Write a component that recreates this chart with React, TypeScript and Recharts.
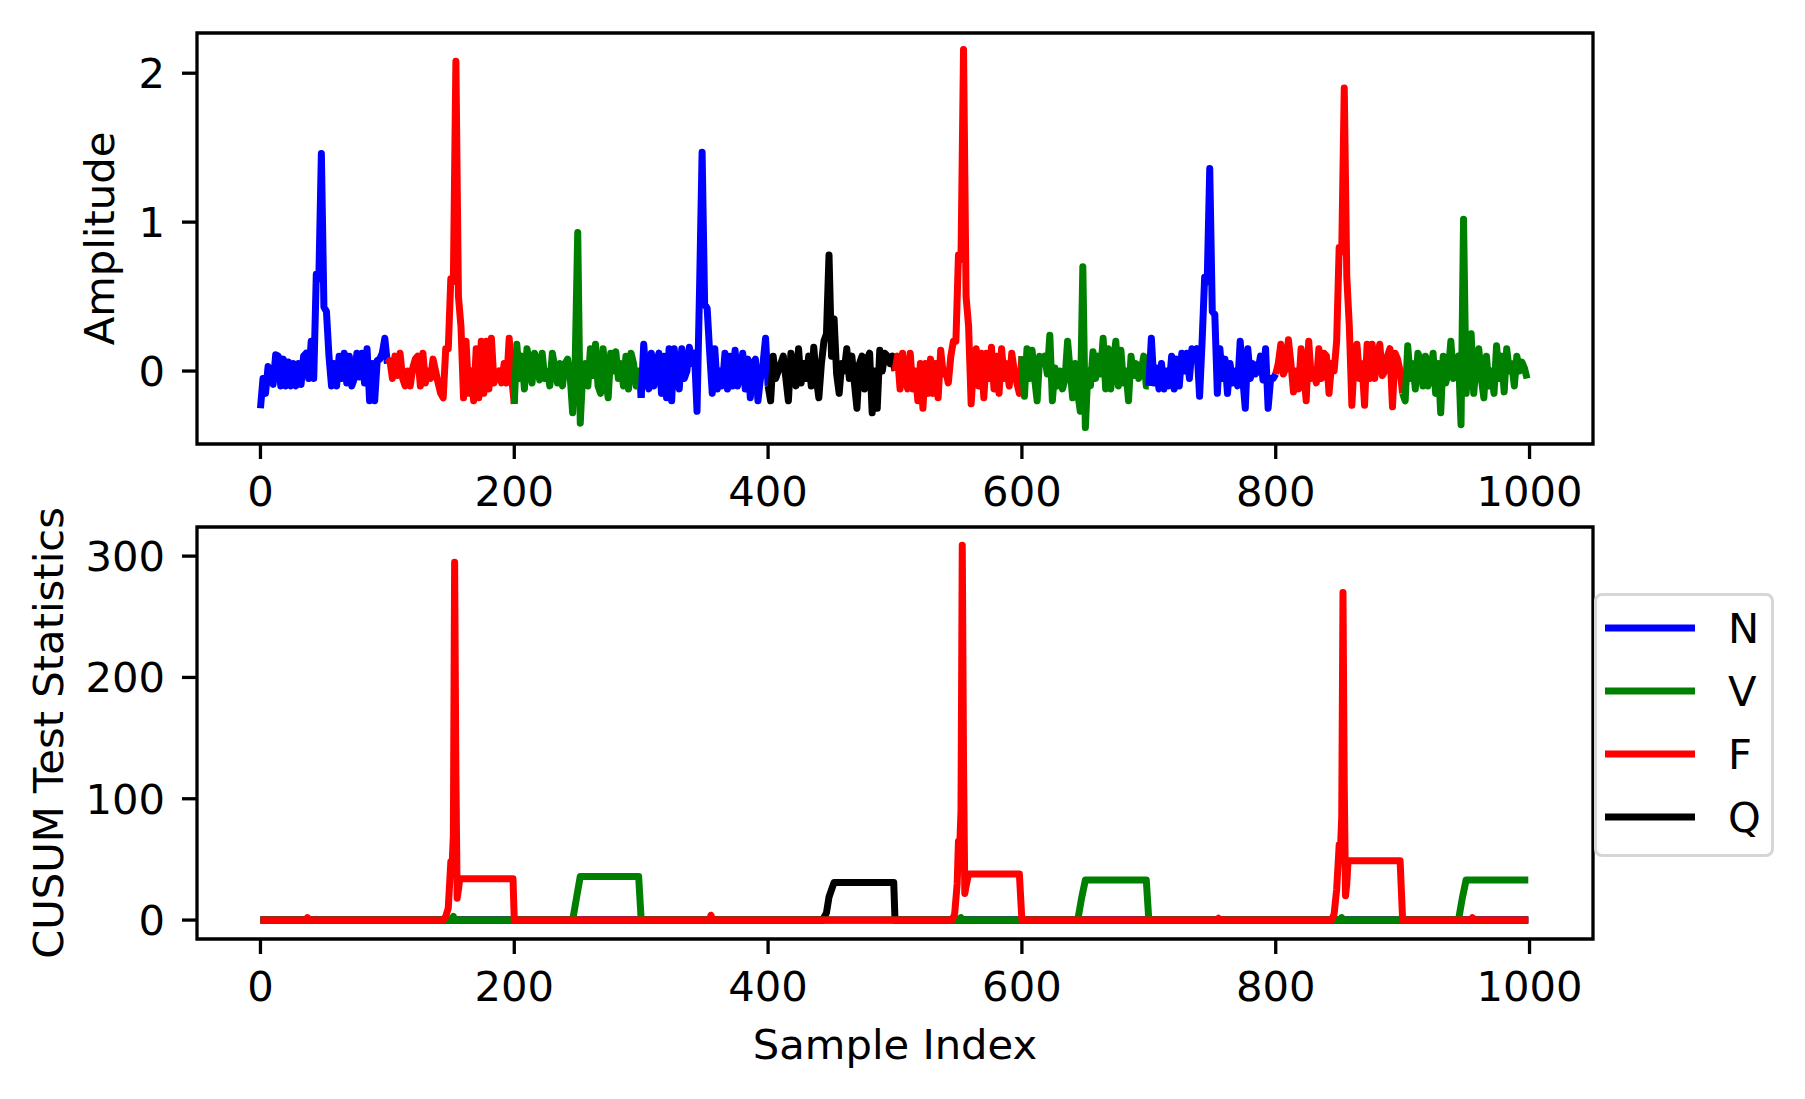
import React from 'react';
import { LineChart, Line, XAxis, YAxis, ReferenceArea } from 'recharts';

const FONT = '"DejaVu Sans", sans-serif';
const FS = 41.7;

// class colours (matplotlib b / g / r / k)
const classColors: Record<string, string> = { N: '#0000ff', V: '#008000', F: '#ff0000', Q: '#000000' };
const legendOrder = ['N', 'V', 'F', 'Q'];

const xTicks = [0, 200, 400, 600, 800, 1000];
const ampTicks = [0, 1, 2];
const cusumTicks = [0, 100, 200, 300];

// top panel: ten 100-sample beats, values every 2 samples
const segStarts = [0, 100, 200, 300, 400, 500, 600, 700, 800, 900];
const segClasses = ['N', 'F', 'V', 'N', 'Q', 'F', 'V', 'N', 'F', 'V'];
const SAMPLE_STEP = 2;

const seg0 = [-0.25, -0.05, -0.15, 0.03, -0.02, -0.09, 0.11, 0.1, -0.1, 0.08,
  -0.1, 0.06, -0.1, 0.05, -0.1, 0.05, -0.09, 0.1, 0.12, -0.05,
  0.2, -0.05, 0.65, 0.62, 1.46, 0.43, 0.4, 0.1, -0.1, 0.05,
  -0.1, 0.1, -0.05, 0.12, -0.08, 0.1, -0.1, -0.05, 0.12, -0.04,
  0.12, -0.08, 0.15, -0.2, 0.05, -0.2, 0.07, 0.08, 0.12, 0.22];
const seg1 = [0.05, 0.07, -0.05, 0.1, -0.03, 0.12, -0.05, -0.1, 0.0, -0.1,
  0.02, 0.08, 0.1, -0.1, 0.12, -0.08, 0.0, -0.05, 0.08, 0.0,
  -0.08, -0.15, -0.18, 0.15, 0.15, 0.62, 0.6, 2.08, 0.5, 0.3,
  -0.18, 0.2, -0.15, 0.0, -0.2, 0.15, -0.18, 0.2, -0.15, 0.2,
  -0.12, 0.22, -0.08, -0.02, 0.0, -0.08, 0.05, -0.08, 0.22, -0.05];
const seg2 = [-0.22, 0.18, -0.05, 0.1, -0.12, 0.15, 0.05, -0.08, 0.12, 0.05,
  -0.06, 0.12, -0.05, 0.0, -0.1, 0.12, 0.02, -0.08, 0.05, -0.1,
  0.05, 0.08, -0.03, -0.28, 0.06, 0.93, -0.35, 0.0, 0.05, -0.1,
  0.15, -0.03, 0.18, -0.1, -0.15, 0.15, -0.05, -0.18, 0.12, 0.0,
  0.13, -0.05, 0.05, -0.1, 0.1, -0.12, 0.12, 0.05, -0.1, 0.0];
const seg3 = [-0.18, 0.18, -0.05, -0.12, 0.12, -0.1, 0.05, 0.12, -0.15, 0.1,
  -0.18, 0.15, -0.2, 0.15, 0.0, -0.12, 0.15, -0.05, 0.0, 0.16,
  0.05, 0.12, -0.27, 0.55, 1.47, 0.45, 0.42, 0.12, -0.15, 0.15,
  -0.12, 0.0, -0.1, 0.12, -0.12, 0.1, -0.1, 0.14, -0.1, 0.0,
  0.12, -0.12, 0.08, -0.18, 0.05, 0.08, -0.2, -0.05, 0.05, 0.22];
const seg4 = [-0.1, -0.2, 0.1, -0.05, 0.0, 0.05, 0.1, -0.05, -0.2, 0.12,
  0.0, -0.1, 0.15, -0.08, 0.05, -0.05, 0.1, -0.1, 0.16, -0.05,
  -0.18, 0.05, 0.2, 0.25, 0.78, 0.1, 0.35, -0.02, -0.15, 0.05,
  0.0, 0.15, -0.05, 0.1, -0.08, -0.25, 0.05, 0.1, -0.12, 0.08,
  0.12, -0.28, 0.0, -0.25, 0.14, 0.0, 0.12, 0.1, 0.05, 0.1];
const seg5 = [0.0, 0.1, -0.12, 0.12, -0.05, -0.12, 0.12, -0.12, 0.0, -0.2,
  0.05, -0.25, 0.05, -0.15, 0.08, -0.15, 0.05, -0.18, 0.14, -0.02,
  0.0, -0.08, 0.1, 0.2, 0.2, 0.78, 0.75, 2.16, 0.5, 0.3,
  -0.22, 0.05, 0.15, -0.1, 0.12, -0.18, 0.12, -0.05, 0.16, -0.12,
  0.1, -0.15, 0.15, -0.05, 0.05, -0.1, 0.12, 0.0, -0.08, -0.15];
const seg6 = [0.1, -0.17, 0.15, -0.05, 0.14, -0.05, -0.2, 0.1, 0.05, 0.1,
  -0.02, 0.24, -0.2, 0.02, -0.1, 0.0, -0.12, -0.05, 0.2, 0.0,
  -0.18, 0.05, -0.15, -0.27, 0.7, -0.38, 0.0, -0.1, 0.13, -0.05,
  0.1, -0.02, 0.22, -0.12, 0.15, -0.12, 0.05, 0.2, -0.1, 0.14,
  -0.08, 0.0, -0.2, 0.1, -0.03, 0.05, -0.05, 0.0, 0.1, -0.1];
const seg7 = [-0.1, 0.22, -0.08, 0.02, -0.12, 0.05, -0.12, 0.0, -0.1, 0.1,
  -0.12, 0.08, -0.1, 0.12, 0.0, 0.12, -0.05, 0.15, 0.1, 0.15,
  -0.17, 0.2, 0.63, 0.6, 1.36, 0.4, 0.38, -0.15, 0.15, -0.05,
  0.08, -0.15, 0.05, -0.08, 0.0, -0.1, 0.2, -0.05, -0.25, 0.15,
  -0.05, 0.05, -0.02, 0.0, 0.1, -0.06, 0.15, -0.25, -0.05, -0.05];
const seg8 = [-0.02, 0.05, 0.18, -0.02, 0.02, 0.21, 0.05, -0.14, 0.0, -0.12,
  0.15, 0.0, -0.2, 0.2, -0.05, 0.0, -0.08, 0.15, -0.05, 0.12,
  0.1, -0.15, 0.05, 0.0, 0.2, 0.83, 0.8, 1.9, 0.63, 0.3,
  -0.23, 0.1, 0.18, -0.05, 0.05, -0.23, 0.18, -0.05, 0.18, -0.05,
  0.1, 0.18, -0.03, 0.0, 0.1, 0.15, -0.24, 0.12, 0.08, 0.0];
const seg9 = [-0.15, -0.2, 0.17, -0.05, 0.05, -0.12, 0.12, 0.08, -0.1, 0.1,
  -0.1, 0.0, 0.12, -0.15, 0.05, -0.28, 0.1, -0.08, 0.0, 0.2,
  -0.05, 0.0, 0.1, -0.36, 1.02, -0.15, 0.05, 0.25, -0.15, 0.05,
  0.15, -0.05, -0.18, 0.1, -0.1, 0.0, -0.15, 0.17, -0.05, 0.1,
  -0.14, 0.15, 0.0, 0.05, -0.1, 0.1, 0.0, 0.06, 0.02, -0.05];
const segValues = [seg0, seg1, seg2, seg3, seg4, seg5, seg6, seg7, seg8, seg9];

// bottom panel: CUSUM statistic per class, [sample, value] breakpoints
const cusumN: [number, number][] = [[0, 0], [999, 0]];
const cusumQ: [number, number][] = [[0, 0], [443, 0], [446, 6], [448, 19], [452, 31], [499, 31], [500, 0], [999, 0]];
const cusumV: [number, number][] = [
  [0, 0], [150, 0], [152, 3], [153, 0], [246, 0], [248, 12], [249, 18], [252, 36], [298, 36], [300, 0],
  [550, 0], [552, 2], [553, 0], [644, 0], [646, 12], [647, 18], [650, 33], [698, 33], [700, 0],
  [850, 0], [852, 2], [853, 0], [944, 0], [946, 12], [947, 18], [950, 33], [999, 33],
];
const cusumF: [number, number][] = [
  [0, 0], [36, 0], [37, 2], [38, 0], [144, 0], [146, 3], [148, 10], [150, 48], [151, 45], [152, 70],
  [153, 295], [154, 120], [155, 18], [156, 25], [157, 34], [199, 34], [200, 0], [354, 0], [355, 4], [356, 0],
  [545, 0], [547, 5], [549, 30], [550, 65], [551, 60], [552, 90], [553, 309], [554, 130], [555, 22], [556, 28],
  [558, 38], [598, 38], [600, 0], [754, 0], [755, 1.5], [756, 0], [844, 0], [846, 5], [848, 25], [850, 62],
  [851, 58], [852, 85], [853, 270], [854, 110], [855, 20], [856, 30], [857, 49], [898, 49], [900, 0],
  [954, 0], [955, 2], [956, 0], [999, 0],
];
// drawing order (red ends up on top)
const cusumSeries: { cls: string; pts: [number, number][] }[] = [
  { cls: 'N', pts: cusumN },
  { cls: 'Q', pts: cusumQ },
  { cls: 'V', pts: cusumV },
  { cls: 'F', pts: cusumF },
];

const X_DOMAIN: [number, number] = [-50, 1050];
const AMP_DOMAIN: [number, number] = [-0.49, 2.27];
const CUSUM_DOMAIN: [number, number] = [-15.6, 324];

const LINE_W = 7;
const SPINE_W = 3.3;

const beatLines = segValues.map((vals, i) => {
  const pts = vals.map((y, k) => ({ x: segStarts[i] + k * SAMPLE_STEP, y }));
  if (i + 1 < segValues.length) pts.push({ x: segStarts[i + 1], y: segValues[i + 1][0] });
  return { cls: segClasses[i], pts };
});

const XTick = (p: any) => (
  <text x={p.x} y={p.y} dy={47} textAnchor="middle" fontFamily={FONT} fontSize={FS} fill="#000">
    {p.payload.value}
  </text>
);

const YTick = (p: any) => (
  <text x={p.x} y={p.y} dx={-17} dy={15} textAnchor="end" fontFamily={FONT} fontSize={FS} fill="#000">
    {p.payload.value}
  </text>
);

// axis titles; positions passed as px/py so recharts' own x/y don't override them
const VTitle = ({ px, py, text }: any) => (
  <text x={px} y={py} transform={`rotate(-90, ${px}, ${py})`} textAnchor="middle" fontFamily={FONT} fontSize={FS} fill="#000">
    {text}
  </text>
);

const HTitle = ({ px, py, text }: any) => (
  <text x={px} y={py} textAnchor="middle" fontFamily={FONT} fontSize={FS} fill="#000">
    {text}
  </text>
);

const Legend = () => (
  <div
    style={{
      position: 'absolute', left: 1594, top: 593, width: 180, height: 264, boxSizing: 'border-box',
      border: `${SPINE_W}px solid #d6d6d6`, borderRadius: 8, background: 'rgba(255,255,255,0.8)',
    }}
  >
    <svg width={180} height={264} style={{ position: 'absolute', left: -SPINE_W, top: -SPINE_W }}>
      {legendOrder.map((cls, i) => {
        const cy = 35 + i * 63;
        return (
          <g key={cls}>
            <line x1={11} x2={101} y1={cy} y2={cy} stroke={classColors[cls]} strokeWidth={LINE_W} />
            <text x={134} y={cy + 15} fontFamily={FONT} fontSize={FS} fill="#000">{cls}</text>
          </g>
        );
      })}
    </svg>
  </div>
);

export default function App() {
  return (
    <div style={{ position: 'absolute', left: 0, top: 0, width: 1805, height: 1099, background: '#fff', overflow: 'hidden' }}>
      <div style={{ position: 'absolute', left: 0, top: 0 }}>
        <LineChart width={1805} height={520} margin={{ top: 33, right: 212, bottom: 16, left: 137 }}>
          <XAxis
            type="number" dataKey="x" domain={X_DOMAIN} allowDataOverflow ticks={xTicks} interval={0}
            axisLine={false} tickSize={15} tickMargin={0} height={60}
            tickLine={{ stroke: '#000', strokeWidth: SPINE_W }} tick={<XTick />}
          />
          <YAxis
            type="number" dataKey="y" domain={AMP_DOMAIN} allowDataOverflow ticks={ampTicks} interval={0}
            axisLine={false} tickSize={15} tickMargin={0} width={60}
            tickLine={{ stroke: '#000', strokeWidth: SPINE_W }} tick={<YTick />}
            label={<VTitle px={114} py={238.5} text="Amplitude" />}
          />
          {beatLines.map((b, i) => (
            <Line
              key={i} data={b.pts} dataKey="y" type="linear" stroke={classColors[b.cls]} strokeWidth={LINE_W}
              strokeLinejoin="round" dot={false} activeDot={false} isAnimationActive={false} legendType="none"
            />
          ))}
          <ReferenceArea
            x1={X_DOMAIN[0]} x2={X_DOMAIN[1]} y1={AMP_DOMAIN[0]} y2={AMP_DOMAIN[1]}
            fill="none" fillOpacity={0} stroke="#000" strokeWidth={SPINE_W} ifOverflow="visible"
          />
        </LineChart>
      </div>
      <div style={{ position: 'absolute', left: 0, top: 480 }}>
        <LineChart width={1805} height={619} margin={{ top: 47, right: 212, bottom: 100, left: 137 }}>
          <XAxis
            type="number" dataKey="x" domain={X_DOMAIN} allowDataOverflow ticks={xTicks} interval={0}
            axisLine={false} tickSize={15} tickMargin={0} height={60}
            tickLine={{ stroke: '#000', strokeWidth: SPINE_W }} tick={<XTick />}
            label={<HTitle px={895} py={579} text="Sample Index" />}
          />
          <YAxis
            type="number" dataKey="y" domain={CUSUM_DOMAIN} allowDataOverflow ticks={cusumTicks} interval={0}
            axisLine={false} tickSize={15} tickMargin={0} width={60}
            tickLine={{ stroke: '#000', strokeWidth: SPINE_W }} tick={<YTick />}
            label={<VTitle px={63} py={253} text="CUSUM Test Statistics" />}
          />
          {cusumSeries.map((s) => (
            <Line
              key={s.cls} data={s.pts.map(([x, y]) => ({ x, y }))} dataKey="y" type="linear"
              stroke={classColors[s.cls]} strokeWidth={LINE_W} strokeLinejoin="round"
              dot={false} activeDot={false} isAnimationActive={false} legendType="none"
            />
          ))}
          <ReferenceArea
            x1={X_DOMAIN[0]} x2={X_DOMAIN[1]} y1={CUSUM_DOMAIN[0]} y2={CUSUM_DOMAIN[1]}
            fill="none" fillOpacity={0} stroke="#000" strokeWidth={SPINE_W} ifOverflow="visible"
          />
        </LineChart>
      </div>
      <Legend />
    </div>
  );
}
